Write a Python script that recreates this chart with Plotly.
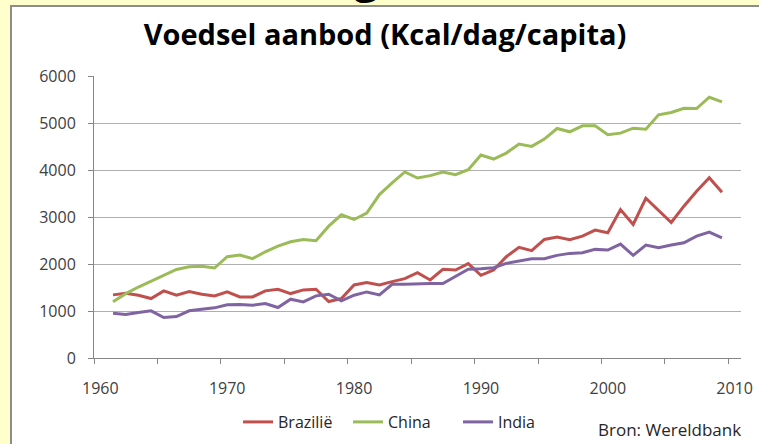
import plotly.graph_objects as go

years = list(range(1961, 2010))

brazilie = [1343, 1378, 1336, 1265, 1428, 1336, 1413, 1357, 1322, 1406,
            1300, 1300, 1428, 1463, 1371, 1449, 1463, 1201, 1265, 1555,
            1604, 1555, 1625, 1689, 1816, 1661, 1887, 1873, 2007, 1760,
            1873, 2155, 2353, 2283, 2523, 2572, 2516, 2594, 2721, 2664,
            3159, 2841, 3399, 3138, 2883, 3230, 3548, 3837, 3527]

china = [1198, 1370, 1510, 1640, 1765, 1885, 1940, 1950, 1915, 2155,
         2190, 2113, 2260, 2380, 2473, 2523, 2495, 2805, 3046, 2947,
         3081, 3477, 3724, 3958, 3830, 3880, 3958, 3901, 4007, 4318,
         4233, 4360, 4551, 4502, 4657, 4883, 4813, 4940, 4940, 4749,
         4784, 4890, 4869, 5173, 5223, 5314, 5307, 5548, 5449]

india = [954, 926, 968, 1004, 862, 883, 1004, 1039, 1067, 1131,
         1138, 1124, 1159, 1074, 1251, 1194, 1322, 1357, 1215, 1336,
         1406, 1343, 1569, 1569, 1583, 1583, 1583, 1731, 1887, 1901,
         1922, 2014, 2071, 2113, 2113, 2184, 2226, 2240, 2311, 2297,
         2424, 2184, 2403, 2346, 2403, 2452, 2594, 2678, 2558]

x_labels = [1960, 1970, 1980, 1990, 2000, 2010]
y_ticks = [0, 1000, 2000, 3000, 4000, 5000, 6000]

FONT = "Open Sans"
AX = "#868686"

fig = go.Figure()
for name, vals, col in [("Brazilië", brazilie, "#C0504D"),
                        ("China", china, "#9BBB59"),
                        ("India", india, "#8064A2")]:
    fig.add_trace(go.Scatter(x=years, y=vals, name=name, mode="lines",
                             line=dict(color=col, width=3)))

# pixel -> paper helpers (plot area 94..741 x, 76..358 y)
def px(x):
    return (x - 94) / 647.0

def py(y):
    return (358 - y) / 282.0

fig.update_layout(
    width=759, height=444,
    margin=dict(l=94, r=18, t=76, b=86, autoexpand=False),
    paper_bgcolor="#FFFFCC",
    plot_bgcolor="#FFFFFF",
    title=dict(text="<b>Voedsel aanbod (Kcal/dag/capita)</b>",
               x=385 / 759, xanchor="center", xref="container",
               y=1 - 35 / 444, yanchor="middle", yref="container",
               font=dict(family=FONT, size=29, color="#000000")),
    font=dict(family=FONT, color="#404040"),
    showlegend=True,
    legend=dict(orientation="h", x=px(403), xanchor="center",
                y=py(422), yanchor="middle",
                font=dict(family=FONT, size=16, color="#262626"),
                bgcolor="rgba(0,0,0,0)", entrywidth=65),
    xaxis=dict(range=[1959.5, 2010.5], tickmode="array", tickvals=x_labels,
               ticktext=[str(v) for v in x_labels], ticks="",
               showgrid=False, showline=True, linecolor=AX, linewidth=1,
               zeroline=False, ticklabelstandoff=16,
               tickfont=dict(family=FONT, size=16, color="#404040"),
               minor=dict(ticks="outside", tick0=1959.5, dtick=5, ticklen=5,
                          tickcolor=AX, tickwidth=1, showgrid=False)),
    yaxis=dict(range=[0, 6000], tickmode="array", tickvals=y_ticks,
               ticks="outside", ticklen=5, tickcolor=AX,
               showgrid=True, gridcolor="#AFAFAF", gridwidth=1,
               showline=True, linecolor=AX, linewidth=1, zeroline=False,
               ticklabelstandoff=9,
               tickfont=dict(family=FONT, size=16, color="#404040")),
    shapes=[dict(type="rect", xref="paper", yref="paper",
                 x0=px(11), x1=px(775), y0=py(460), y1=py(6),
                 fillcolor="#FFFFFF", line=dict(color="#8C8C8C", width=2),
                 layer="below")],
    annotations=[
        dict(text="Bron: Wereldbank", xref="paper", yref="paper",
             x=px(669), y=py(429), xanchor="center", yanchor="middle",
             showarrow=False, font=dict(family=FONT, size=17, color="#262626")),
        dict(text="<b>g</b>", xref="paper", yref="paper",
             x=px(366), y=py(7), xanchor="center", yanchor="bottom",
             showarrow=False, font=dict(family=FONT, size=44, color="#000000")),
    ],
)

fig.write_html("out.html",
               config={"displayModeBar": False},
               post_script="document.body.style.margin='0';"
                           "document.body.style.background='#FFFFCC';")
